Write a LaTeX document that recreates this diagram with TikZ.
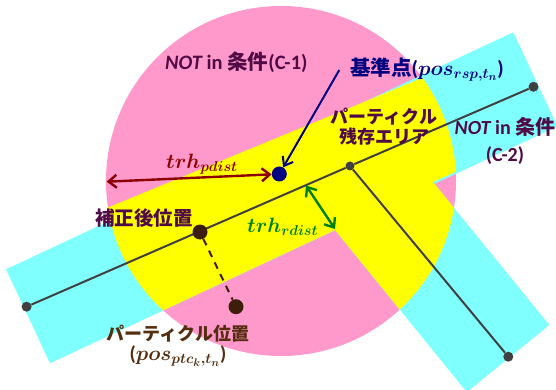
\documentclass[tikz,border=0pt]{standalone}
\usepackage{fontspec}
\usepackage{bm}
\setmainfont{Carlito}
\newfontfamily\cjk{Noto Sans CJK JP}
\usetikzlibrary{arrows.meta}
\definecolor{pinkc}{RGB}{255,153,204}
\definecolor{cyanc}{RGB}{128,255,255}
\definecolor{yel}{RGB}{255,255,0}
\definecolor{plum}{RGB}{80,10,70}
\definecolor{navyc}{RGB}{0,0,128}
\definecolor{dred}{RGB}{140,0,0}
\definecolor{dgreen}{RGB}{0,128,0}
\definecolor{brn}{RGB}{85,45,15}
\definecolor{dotb}{RGB}{60,30,10}
\definecolor{lineg}{RGB}{64,64,64}
\newcommand{\J}[1]{{\cjk\bfseries #1}}
\newcommand{\M}[1]{{\fontsize{22}{24}\selectfont$\bm{#1}$}}
\begin{document}
\begin{tikzpicture}[x=1pt,y=-1pt,
  enddot/.style={circle,fill=lineg,inner sep=0pt,minimum size=10pt},
  jdot/.style={circle,fill=lineg,inner sep=0pt,minimum size=9pt},
  posdot/.style={circle,fill=dotb,inner sep=0pt,minimum size=15pt},
  rspdot/.style={circle,fill=navyc,inner sep=0pt,minimum size=15pt},
  road/.style={draw=lineg,line width=2pt},
  lbl/.style={inner sep=0pt,anchor=base west,font=\fontsize{20}{24}\selectfont},
  mlbl/.style={inner sep=0pt,anchor=center,align=center},
  barb/.tip={Straight Barb[length=8pt,width=13pt]},
  dimarrow/.style={line width=2.4pt,barb-barb},
]
\clip (0,0) rectangle (556,390);
% condition areas
\fill[pinkc] (281,181) circle (175);
\fill[cyanc] (6,269.3) -- (513.3,32.3) -- (557.4,126.4) -- (50,363.3) -- cycle;
\fill[cyanc] (335,230) -- (433,182) -- (549.3,325) -- (466.8,392.1) -- cycle;
\begin{scope}
  \clip (281,181) circle (175);
  \fill[yel] (0,252.1) -- (560,21.1) -- (560,124.9) -- (433,182) -- (560,338.2)
     -- (560,400) -- (473.3,400) -- (335,230) -- (0,386.7) -- cycle;
\end{scope}
% road network
\node[enddot] (e1) at (26.6,306.7) {};
\node[enddot] (e2) at (533.5,86.8) {};
\node[jdot] (jn) at (350,166) {};
\node[enddot] (e3) at (508.3,356.7) {};
\draw[road] (e1) -- (jn) -- (e2);
\draw[road] (jn) -- (e3);
% points
\node[posdot] (cp) at (200,232) {};
\node[posdot] (pp) at (236,306.7) {};
\node[rspdot] (rsp) at (279.3,174) {};
\draw[dotb,line width=2pt,dash pattern=on 7pt off 6pt] (cp) -- (pp);
% arrows
\coordinate (bstart) at (339.3,70);
\coordinate (cl) at (106.7,181.7);
\coordinate (gl) at (306,185.5);
\coordinate (ic) at (335,229);
\draw[navyc,line width=2pt,-{Straight Barb[length=8pt,width=12pt]}] (bstart) -- (rsp);
\draw[dred,dimarrow] (cl) -- (rsp);
\draw[dgreen,dimarrow] (gl) -- (ic);
% labels
\node[lbl,text=plum,font=\fontsize{20.5}{24}\selectfont] (c1) at (165,70) {{\bfseries\itshape NOT} {\bfseries in} \J{条件}{\bfseries (C-1)}};
\node[lbl,text=navyc,font=\fontsize{20.5}{24}\selectfont] (rspl) at (350,75.5) {\J{基準点}{\bfseries(}\M{pos_{rsp,t_n}}{\bfseries)}};
\node[mlbl,text=plum,font=\fontsize{18}{20}\selectfont] (area) at (384,126.2) {\J{パーティクル}\\\J{残存エリア}};
\node[mlbl,text=plum,font=\fontsize{20}{27}\selectfont] (c2) at (505,140.7) {{\bfseries\itshape NOT} {\bfseries in} \J{条件}\\{\bfseries (C-2)}};
\node[lbl,text=plum,font=\fontsize{19.5}{24}\selectfont] (cpl) at (95,225) {\J{補正後位置}};
\node[mlbl,text=brn,font=\fontsize{18}{20}\selectfont] (ppl) at (178,346) {\J{パーティクル位置}\\{\fontsize{20}{20}\selectfont\bfseries(}\M{pos_{ptc_k,t_n}}{\fontsize{20}{20}\selectfont\bfseries)}};
\node[lbl,text=dred] (pdl) at (166,168.3) {\M{trh_{pdist}}};
\node[lbl,text=dgreen] (rdl) at (247,232.7) {\M{trh_{rdist}}};
\end{tikzpicture}
\end{document}
